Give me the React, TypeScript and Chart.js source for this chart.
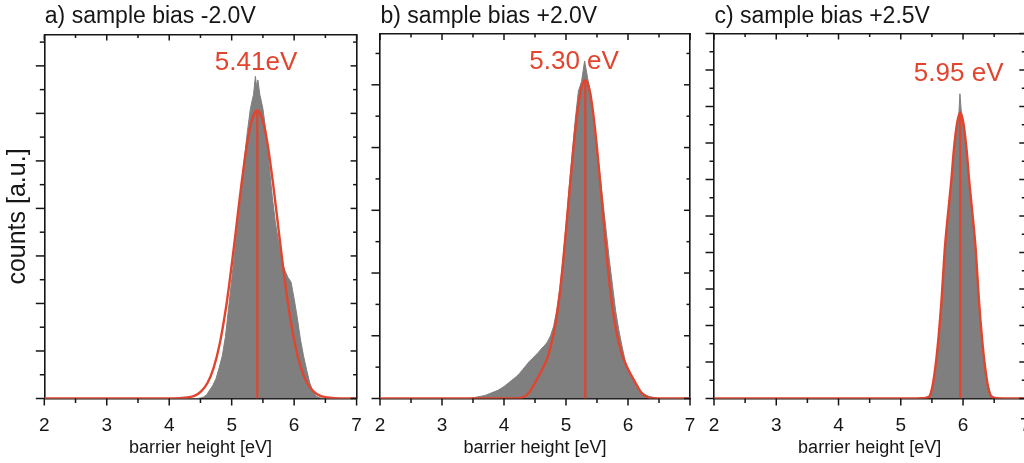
import React, { useEffect, useRef } from 'react';
import { Chart, registerables } from 'chart.js';

Chart.register(...registerables);

const FONT_FAMILY = '"Liberation Sans", Arimo, Arial, Helvetica, sans-serif';
const INK = '#161616';
const RED = '#e2442e';
const GRAY = '#7f7f7f';

Chart.defaults.font.family = FONT_FAMILY;
Chart.defaults.color = INK;

// ---------------- shared axis data ----------------
const X_MIN = 2;
const X_MAX = 7;
const X_TITLE = 'barrier height [eV]';
const Y_TITLE = 'counts [a.u.]';

// ---------------- panel a ----------------
const TITLE_A = 'a) sample bias -2.0V';
const PEAK_TEXT_A = '5.41eV';
const PEAK_A = 5.41;
const FIT_PEAK_A = 6.06;
const Y_MAX_A = 7.66;
const LABEL_AT_A = [5.39, 7.07];
const HIST_E_A = [2.0, 4.45, 4.5, 4.55, 4.6, 4.65, 4.7, 4.75, 4.8, 4.85, 4.9, 4.95, 5.0, 5.05, 5.1, 5.15, 5.2, 5.25, 5.3, 5.35, 5.38, 5.4, 5.42, 5.45, 5.5, 5.55, 5.6, 5.65, 5.7, 5.75, 5.8, 5.85, 5.9, 5.95, 6.0, 6.05, 6.1, 6.15, 6.2, 6.25, 6.3, 6.35, 6.4, 6.45, 7.0];
const HIST_A = [0, 0, 0.01, 0.03, 0.08, 0.18, 0.28, 0.42, 0.65, 0.9, 1.3, 1.9, 2.5, 3.1, 3.7, 4.3, 5.0, 5.6, 6.1, 6.4, 6.78, 6.55, 6.7, 6.4, 6.1, 5.6, 4.9, 4.25, 3.7, 3.3, 2.9, 2.7, 2.55, 2.45, 2.1, 1.7, 1.25, 0.9, 0.6, 0.33, 0.15, 0.05, 0.02, 0, 0];
const FIT_E_A = [2.0, 4.0, 4.21, 4.41, 4.51, 4.61, 4.71, 4.81, 4.91, 4.96, 5.01, 5.06, 5.11, 5.16, 5.21, 5.26, 5.31, 5.36, 5.41, 5.46, 5.51, 5.56, 5.61, 5.66, 5.71, 5.76, 5.81, 5.86, 5.91, 6.01, 6.11, 6.21, 6.31, 6.41, 6.61, 6.8, 7.0];
const FIT_A = [0, 0, 0.01, 0.06, 0.15, 0.32, 0.64, 1.16, 1.92, 2.39, 2.91, 3.45, 4.01, 4.55, 5.04, 5.47, 5.79, 5.99, 6.06, 5.99, 5.79, 5.47, 5.04, 4.55, 4.01, 3.45, 2.91, 2.39, 1.92, 1.16, 0.64, 0.32, 0.15, 0.06, 0.01, 0, 0];

// ---------------- panel b ----------------
const TITLE_B = 'b) sample bias +2.0V';
const PEAK_TEXT_B = '5.30 eV';
const PEAK_B = 5.31;
const FIT_PEAK_B = 5.07;
const Y_MAX_B = 5.81;
const LABEL_AT_B = [5.13, 5.36];
const HIST_E_B = [2.0, 3.45, 3.5, 3.55, 3.6, 3.65, 3.7, 3.75, 3.8, 3.85, 3.9, 3.95, 4.0, 4.05, 4.1, 4.15, 4.2, 4.25, 4.3, 4.35, 4.4, 4.45, 4.5, 4.55, 4.6, 4.65, 4.7, 4.75, 4.8, 4.85, 4.9, 4.95, 5.0, 5.05, 5.1, 5.15, 5.2, 5.25, 5.3, 5.35, 5.4, 5.45, 5.5, 5.55, 5.6, 5.65, 5.7, 5.75, 5.8, 5.85, 5.9, 5.95, 6.0, 6.05, 6.1, 6.15, 6.2, 6.25, 6.3, 6.35, 6.4, 6.45, 6.5, 7.0];
const HIST_B = [0, 0, 0.01, 0.02, 0.03, 0.04, 0.05, 0.07, 0.09, 0.11, 0.13, 0.16, 0.19, 0.23, 0.27, 0.31, 0.35, 0.4, 0.46, 0.52, 0.58, 0.63, 0.68, 0.73, 0.79, 0.84, 0.9, 1.0, 1.15, 1.4, 1.75, 2.2, 2.75, 3.35, 3.9, 4.45, 4.9, 5.05, 5.38, 5.1, 4.85, 4.3, 3.95, 3.55, 3.1, 2.65, 2.2, 1.8, 1.4, 1.1, 0.85, 0.62, 0.45, 0.35, 0.26, 0.18, 0.12, 0.08, 0.05, 0.03, 0.02, 0.01, 0, 0];
const FIT_E_B = [2.0, 4.0, 4.21, 4.31, 4.41, 4.51, 4.61, 4.71, 4.81, 4.86, 4.91, 4.96, 5.01, 5.06, 5.11, 5.16, 5.21, 5.26, 5.31, 5.36, 5.41, 5.46, 5.51, 5.56, 5.61, 5.66, 5.71, 5.76, 5.81, 5.91, 6.01, 6.11, 6.21, 6.31, 6.41, 6.6, 7.0];
const FIT_B = [0, 0, 0.005, 0.02, 0.1, 0.27, 0.45, 0.68, 1.08, 1.38, 1.76, 2.25, 2.79, 3.35, 3.89, 4.37, 4.75, 4.99, 5.07, 4.99, 4.75, 4.37, 3.89, 3.35, 2.79, 2.25, 1.76, 1.38, 1.08, 0.68, 0.45, 0.27, 0.1, 0.02, 0.005, 0, 0];

// ---------------- panel c ----------------
const TITLE_C = 'c) sample bias +2.5V';
const PEAK_TEXT_C = '5.95 eV';
const PEAK_C = 5.955;
const FIT_PEAK_C = 7.84;
const Y_MAX_C = 10;
const LABEL_AT_C = [5.93, 8.9];
const HIST_E_C = [2.0, 5.3, 5.35, 5.4, 5.45, 5.5, 5.55, 5.6, 5.65, 5.7, 5.75, 5.8, 5.85, 5.9, 5.93, 5.95, 5.97, 6.0, 6.05, 6.1, 6.15, 6.2, 6.25, 6.3, 6.35, 6.4, 6.45, 6.5, 6.55, 7.0];
const HIST_C = [0, 0, 0.01, 0.02, 0.05, 0.25, 0.75, 1.55, 2.6, 3.9, 4.9, 5.75, 6.7, 7.45, 7.7, 8.35, 7.9, 7.6, 6.9, 5.9, 5.0, 4.0, 2.7, 1.6, 0.85, 0.35, 0.1, 0.03, 0, 0];
const FIT_E_C = [2.0, 5.2, 5.355, 5.455, 5.505, 5.555, 5.605, 5.655, 5.705, 5.755, 5.805, 5.855, 5.905, 5.955, 6.005, 6.055, 6.105, 6.155, 6.205, 6.255, 6.305, 6.355, 6.405, 6.455, 6.555, 6.71, 7.0];
const FIT_C = [0, 0, 0.01, 0.05, 0.3, 0.85, 1.65, 2.7, 4.05, 5.0, 5.85, 6.85, 7.55, 7.84, 7.55, 6.85, 5.85, 5.0, 4.05, 2.7, 1.65, 0.85, 0.3, 0.05, 0.01, 0, 0];

// ---------------- layout (pixels) ----------------
const CANVAS_W = 1040;
const CANVAS_H = 463;
const PLOT_BOTTOM = 398.5;
const RIGHT_AXIS_W = 10;

type Panel = {
  title: string; peakText: string; peak: number; fitPeak: number; yMax: number; labelAt: number[];
  histE: number[]; hist: number[]; fitE: number[]; fit: number[];
  box: { left: number; right: number; top: number; yAxisW: number }; yTitle: boolean;
};

const PANELS: Panel[] = [
  { title: TITLE_A, peakText: PEAK_TEXT_A, peak: PEAK_A, fitPeak: FIT_PEAK_A, yMax: Y_MAX_A, labelAt: LABEL_AT_A,
    histE: HIST_E_A, hist: HIST_A, fitE: FIT_E_A, fit: FIT_A,
    box: { left: 44.3, right: 356.6, top: 34.5, yAxisW: 44 }, yTitle: true },
  { title: TITLE_B, peakText: PEAK_TEXT_B, peak: PEAK_B, fitPeak: FIT_PEAK_B, yMax: Y_MAX_B, labelAt: LABEL_AT_B,
    histE: HIST_E_B, hist: HIST_B, fitE: FIT_E_B, fit: FIT_B,
    box: { left: 380, right: 690, top: 34, yAxisW: 12 }, yTitle: false },
  { title: TITLE_C, peakText: PEAK_TEXT_C, peak: PEAK_C, fitPeak: FIT_PEAK_C, yMax: Y_MAX_C, labelAt: LABEL_AT_C,
    histE: HIST_E_C, hist: HIST_C, fitE: FIT_E_C, fit: FIT_C,
    box: { left: 714, right: 1025.3, top: 33.5, yAxisW: 12 }, yTitle: false },
];

function makeChart(canvas: HTMLCanvasElement, p: Panel) {
  const decor = {
    id: 'decor',
    afterDatasetsDraw(chart: any) {
      const ctx = chart.ctx as CanvasRenderingContext2D;
      const { left, right, top, bottom } = chart.chartArea;
      const xs = chart.scales.x;
      const ys = chart.scales.y;
      ctx.save();
      ctx.strokeStyle = INK;
      ctx.lineWidth = 1.5;
      const seg = (x1: number, y1: number, x2: number, y2: number) => {
        ctx.beginPath(); ctx.moveTo(x1, y1); ctx.lineTo(x2, y2); ctx.stroke();
      };
      const xv: number[] = xs.ticks.map((t: any) => t.value);
      xv.forEach((v, i) => {
        const px = xs.getPixelForValue(v);
        seg(px, bottom, px, bottom + 7);
        seg(px, top, px, top + 6);
        if (i < xv.length - 1) {
          const m = xs.getPixelForValue((v + xv[i + 1]) / 2);
          seg(m, bottom, m, bottom + 4.5);
          seg(m, top, m, top + 3.5);
        }
      });
      const yv: number[] = ys.ticks.map((t: any) => t.value);
      yv.forEach((v, i) => {
        const py = ys.getPixelForValue(v);
        seg(left - 8.5, py, left, py);
        seg(right - 6, py, right, py);
        const step = i > 0 ? v - yv[i - 1] : yv[1] - yv[0];
        const mv = v + step / 2;
        if (mv <= ys.max + 1e-9) {
          const m = ys.getPixelForValue(mv);
          seg(left - 4.5, m, left, m);
          seg(right - 3.5, m, right, m);
        }
      });
      ctx.restore();
    },
    afterDraw(chart: any) {
      const ctx = chart.ctx as CanvasRenderingContext2D;
      const { left } = chart.chartArea;
      const xs = chart.scales.x;
      const ys = chart.scales.y;
      ctx.save();
      ctx.fillStyle = INK;
      ctx.font = `23px ${FONT_FAMILY}`;
      ctx.textAlign = 'left';
      ctx.textBaseline = 'alphabetic';
      ctx.fillText(p.title, left + 0.5, 23);
      ctx.fillStyle = RED;
      ctx.font = `26px ${FONT_FAMILY}`;
      ctx.textAlign = 'center';
      ctx.textBaseline = 'middle';
      ctx.fillText(p.peakText, xs.getPixelForValue(p.labelAt[0]), ys.getPixelForValue(p.labelAt[1]));
      ctx.restore();
    },
  };

  const border = { display: true, color: INK, width: 1.6 };

  return new Chart(canvas, {
    type: 'line',
    data: {
      datasets: [
        {
          label: 'center',
          data: [{ x: p.peak, y: 0 }, { x: p.peak, y: p.fitPeak }],
          borderColor: RED, borderWidth: 2.2, pointRadius: 0, fill: false, order: 0,
        },
        {
          label: 'fit',
          data: p.fitE.map((e, i) => ({ x: e, y: p.fit[i] })),
          borderColor: RED, borderWidth: 2.4, pointRadius: 0, fill: false,
          cubicInterpolationMode: 'monotone', order: 1,
        },
        {
          label: 'histogram',
          data: p.histE.map((e, i) => ({ x: e, y: p.hist[i] })),
          fill: 'origin', tension: 0,
          backgroundColor: GRAY, borderColor: GRAY, borderWidth: 1, pointRadius: 0, order: 2,
        },
      ] as any,
    },
    options: {
      responsive: false,
      animation: false,
      events: [],
      layout: {
        padding: {
          left: p.box.left - p.box.yAxisW,
          right: CANVAS_W - p.box.right - RIGHT_AXIS_W,
          top: 0,
          bottom: 0,
        },
      },
      plugins: { legend: { display: false }, tooltip: { enabled: false }, title: { display: false } },
      scales: {
        x: {
          type: 'linear', position: 'bottom', min: X_MIN, max: X_MAX,
          afterFit: (s: any) => { s.height = CANVAS_H - PLOT_BOTTOM; },
          grid: { display: false }, border,
          ticks: { stepSize: 1, includeBounds: false, color: INK, font: { size: 19 }, padding: 8, maxRotation: 0, autoSkip: false },
          title: { display: true, text: X_TITLE, color: INK, font: { size: 18, lineHeight: 1.2 }, padding: { top: 0, bottom: 3.7 } },
        },
        xTop: {
          type: 'linear', position: 'top', min: X_MIN, max: X_MAX,
          afterFit: (s: any) => { s.height = p.box.top; },
          grid: { display: false }, border, ticks: { display: false },
        },
        y: {
          type: 'linear', position: 'left', min: 0, max: p.yMax,
          afterFit: (s: any) => { s.width = p.box.yAxisW; },
          grid: { display: false }, border,
          ticks: { display: false, stepSize: 1, includeBounds: false },
          title: { display: p.yTitle, text: Y_TITLE, color: INK, font: { size: 25, lineHeight: 1.2 }, padding: { top: 3, bottom: 0 } },
        },
        yR: {
          type: 'linear', position: 'right', min: 0, max: p.yMax,
          afterFit: (s: any) => { s.width = RIGHT_AXIS_W; },
          grid: { display: false }, border, ticks: { display: false },
        },
      } as any,
    },
    plugins: [decor],
  });
}

function PanelCanvas({ panel }: { panel: Panel }) {
  const ref = useRef<HTMLCanvasElement>(null);
  useEffect(() => {
    if (!ref.current) return;
    const chart = makeChart(ref.current, panel);
    return () => chart.destroy();
  }, [panel]);
  return (
    <canvas
      ref={ref}
      width={CANVAS_W}
      height={CANVAS_H}
      style={{ position: 'absolute', left: 0, top: 0, width: CANVAS_W, height: CANVAS_H }}
    />
  );
}

export default function App() {
  return (
    <div style={{ position: 'fixed', left: 0, top: 0, width: 1024, height: 463, overflow: 'hidden', background: '#fff' }}>
      {PANELS.map((p, i) => <PanelCanvas key={i} panel={p} />)}
    </div>
  );
}
